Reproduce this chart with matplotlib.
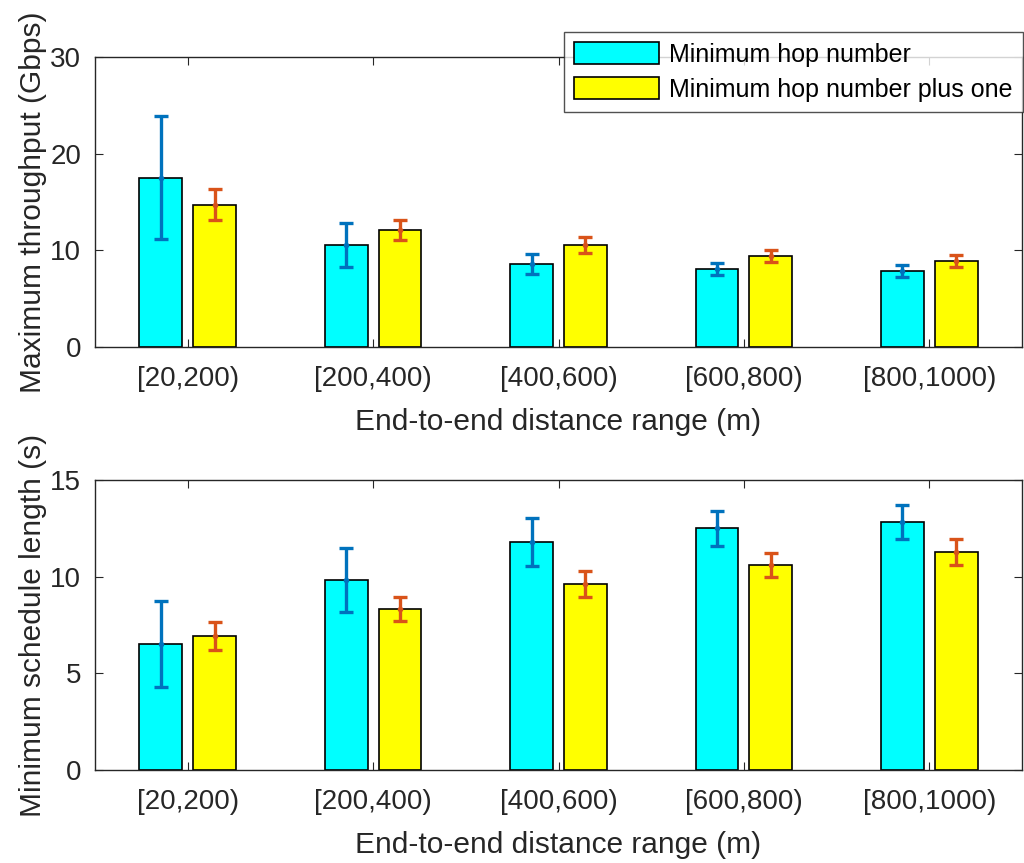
import matplotlib
matplotlib.use("Agg")
import matplotlib.pyplot as plt
import numpy as np

plt.rcParams["font.family"] = ["Liberation Sans", "DejaVu Sans"]

# --- Data
ranges = ["[20,200)", "[200,400)", "[400,600)", "[600,800)", "[800,1000)"]

thr_min = [17.5, 10.55, 8.6, 8.07, 7.86]
thr_min_err = [6.35, 2.25, 1.0, 0.62, 0.65]
thr_plus = [14.7, 12.1, 10.55, 9.4, 8.9]
thr_plus_err = [1.6, 1.0, 0.85, 0.6, 0.6]

sch_min = [6.52, 9.83, 11.8, 12.5, 12.83]
sch_min_err = [2.22, 1.65, 1.23, 0.92, 0.88]
sch_plus = [6.93, 8.33, 9.62, 10.6, 11.28]
sch_plus_err = [0.72, 0.63, 0.68, 0.63, 0.68]

labels = ["Minimum hop number", "Minimum hop number plus one"]

fig = plt.figure(figsize=(10.24, 8.63), dpi=100)
ax1 = fig.add_axes([95 / 1024, 1 - 347 / 863, 927 / 1024, 290 / 863])
ax2 = fig.add_axes([95 / 1024, 1 - 770 / 863, 927 / 1024, 290 / 863])

x = np.arange(1, len(ranges) + 1)
w = 0.23
off = 0.145


def draw(ax, a, ae, b, be, ylim, yticks, ylabel):
    ax.bar(x - off, a, w, color="#00FFFF", edgecolor="black", linewidth=1.2, label=labels[0], zorder=2)
    ax.bar(x + off, b, w, color="#FFFF00", edgecolor="black", linewidth=1.2, label=labels[1], zorder=2)
    ax.errorbar(x - off, a, yerr=ae, fmt=".", color="#0072BD", ecolor="#0072BD",
                elinewidth=2.4, capsize=5.3, capthick=2.4, markersize=6, zorder=3)
    ax.errorbar(x + off, b, yerr=be, fmt=".", color="#D95319", ecolor="#D95319",
                elinewidth=2.4, capsize=5.3, capthick=2.4, markersize=6, zorder=3)
    ax.set_xlim(0.5, 5.5)
    ax.set_ylim(*ylim)
    ax.set_yticks(yticks)
    ax.set_xticks(x)
    ax.set_xticklabels(ranges)
    ax.tick_params(direction="in", top=True, right=True, labelsize=20, length=6,
                   color="#262626", labelcolor="#262626")
    ax.tick_params(axis="x", pad=14)
    ax.tick_params(axis="y", pad=10)
    for s in ax.spines.values():
        s.set_color("#262626")
        s.set_linewidth(1.0)
    ax.set_xlabel("End-to-end distance range (m)", fontsize=21.5, color="#262626", labelpad=11)
    ax.set_ylabel(ylabel, fontsize=21.5, color="#262626", labelpad=2)


draw(ax1, thr_min, thr_min_err, thr_plus, thr_plus_err, (0, 30), [0, 10, 20, 30],
     "Maximum throughput (Gbps)")
draw(ax2, sch_min, sch_min_err, sch_plus, sch_plus_err, (0, 15), [0, 5, 10, 15],
     "Minimum schedule length (s)")

leg = ax1.legend(loc="upper right", bbox_to_anchor=(1.001, 1.086), fontsize=18,
                 frameon=True, fancybox=False, edgecolor="#262626",
                 handlelength=3.4, handleheight=1.0, borderpad=0.4,
                 labelspacing=0.4, handletextpad=0.4, borderaxespad=0.0)
leg.get_frame().set_linewidth(1.0)

fig.savefig("out.png", dpi=100)
